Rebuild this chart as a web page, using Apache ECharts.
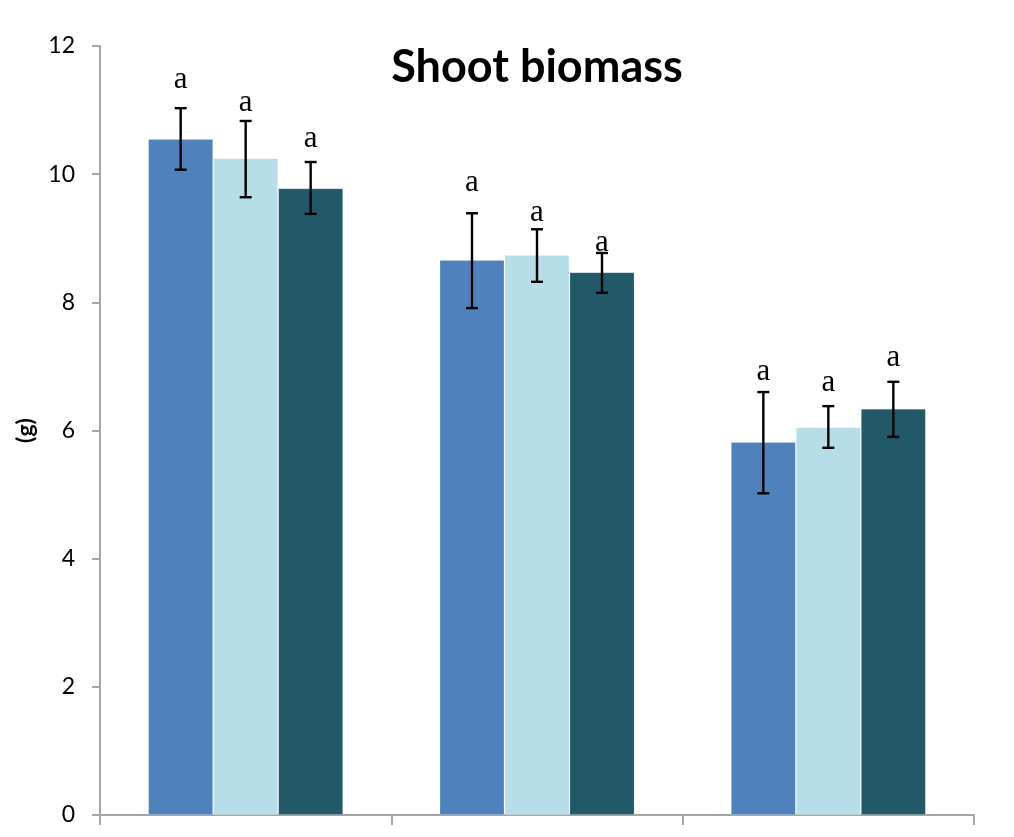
<!DOCTYPE html>
<html><head><meta charset="utf-8">
<script src="https://cdn.jsdelivr.net/npm/echarts@6/dist/echarts.min.js"></script>
<style>html,body{margin:0;padding:0;background:#fff}#c{width:1014px;height:837px}</style>
</head><body><div id="c"></div>
<script>
// ---- data ----
const categories = ['Group 1', 'Group 2', 'Group 3'];
const seriesNames = ['Treatment 1', 'Treatment 2', 'Treatment 3'];
const yTicks = [0, 2, 4, 6, 8, 10, 12];

const means1 = [10.55, 8.66, 5.82];
const means2 = [10.25, 8.74, 6.05];
const means3 = [9.78, 8.47, 6.34];

const upper1 = [11.03, 9.39, 6.60];
const lower1 = [10.07, 7.91, 5.02];
const upper2 = [10.83, 9.14, 6.38];
const lower2 = [9.64, 8.32, 5.73];
const upper3 = [10.19, 8.77, 6.76];
const lower3 = [9.38, 8.15, 5.90];

const letters1 = ['a', 'a', 'a'];
const letters2 = ['a', 'a', 'a'];
const letters3 = ['a', 'a', 'a'];
const letterY1 = [11.47, 9.86, 6.91];
const letterY2 = [11.11, 9.39, 6.74];
const letterY3 = [10.55, 8.93, 7.13];

// ---- styling / layout ----
const colors = ['#4F81BD', '#B7DDE8', '#215968'];
const BAR_W = 65;

const means = [means1, means2, means3];
const uppers = [upper1, upper2, upper3];
const lowers = [lower1, lower2, lower3];
const letters = [letters1, letters2, letters3];
const letterYs = [letterY1, letterY2, letterY3];

const chart = echarts.init(document.getElementById('c'), null, {renderer: 'canvas'});

const barSeries = means.map((m, i) => ({
  name: seriesNames[i],
  type: 'bar',
  data: m,
  barWidth: BAR_W,
  barGap: '0%',
  itemStyle: {color: colors[i], borderColor: 'rgba(255,255,255,0.18)', borderWidth: 1},
  z: 2
}));

const errSeries = means.map((m, i) => ({
  type: 'custom',
  name: seriesNames[i] + ' err',
  data: categories.map((c, k) => [k, lowers[i][k], uppers[i][k], letterYs[i][k], letters[i][k]]),
  encode: {x: 0, y: [1, 2]},
  z: 5,
  silent: true,
  renderItem: function (params, api) {
    const k = api.value(0);
    const lo = api.coord([k, api.value(1)]);
    const hi = api.coord([k, api.value(2)]);
    const ly = api.coord([k, api.value(3)]);
    const x = lo[0] + (i - 1) * BAR_W;
    const cap = 6;
    const st = {stroke: '#000', lineWidth: 2.4};
    return {
      type: 'group',
      children: [
        {type: 'line', shape: {x1: x, y1: hi[1], x2: x, y2: lo[1]}, style: st},
        {type: 'line', shape: {x1: x - cap, y1: hi[1], x2: x + cap, y2: hi[1]}, style: st},
        {type: 'line', shape: {x1: x - cap, y1: lo[1], x2: x + cap, y2: lo[1]}, style: st},
        {type: 'text', x: x, y: ly[1], style: {
          text: letters[i][k], fill: '#000', font: '31px "Liberation Serif", serif',
          align: 'center', verticalAlign: 'middle'}}
      ]
    };
  }
}));

chart.setOption({
  animation: false,
  backgroundColor: '#fff',
  title: {
    text: 'Shoot biomass', left: 532, top: 40, textAlign: 'center',
    textStyle: {fontFamily: 'Lato', fontWeight: 'bold', fontSize: 45, color: '#000'}
  },
  grid: {left: 100, right: 40, top: 46, bottom: 22, containLabel: false},
  xAxis: {
    type: 'category', data: categories,
    axisLine: {lineStyle: {color: '#a6a6a6', width: 2}},
    axisTick: {show: true, length: 10, lineStyle: {color: '#a6a6a6', width: 2}},
    axisLabel: {show: false}
  },
  yAxis: {
    type: 'value', min: 0, max: 12, interval: 2,
    axisLine: {show: true, lineStyle: {color: '#a6a6a6', width: 2}},
    axisTick: {show: true, length: 8, lineStyle: {color: '#a6a6a6', width: 2}},
    splitLine: {show: false},
    axisLabel: {
      margin: 25, color: '#000', fontFamily: 'Lato', fontSize: 23,
      formatter: v => yTicks.includes(v) ? String(v) : ''
    },
    name: '(g)', nameLocation: 'middle', nameGap: 60, nameRotate: 90,
    nameTextStyle: {fontFamily: 'Lato', fontWeight: 'bold', fontSize: 23, color: '#000'}
  },
  series: [...barSeries, ...errSeries]
});
</script></body></html>
